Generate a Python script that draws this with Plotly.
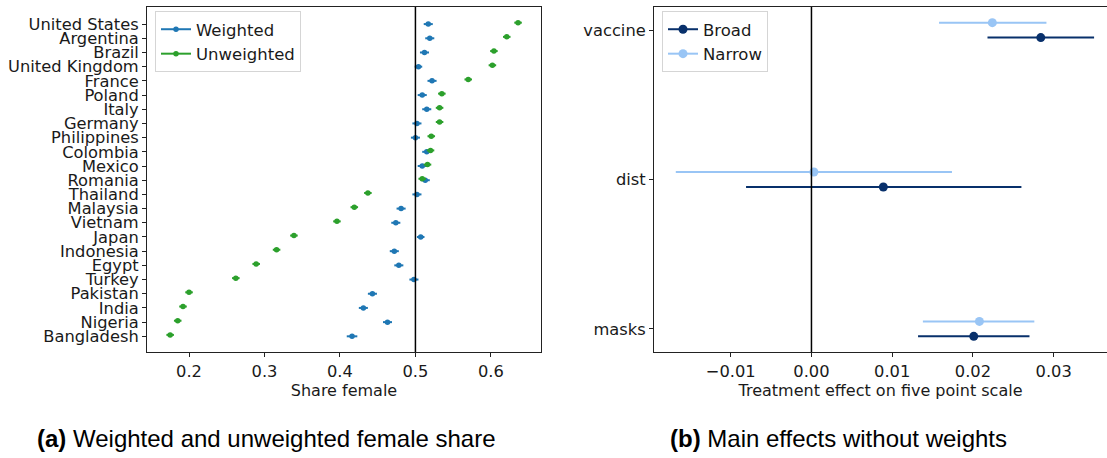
import plotly.graph_objects as go

# ---- panel (a): share of female respondents by country ----
countries = ["United States", "Argentina", "Brazil", "United Kingdom", "France",
             "Poland", "Italy", "Germany", "Philippines", "Colombia", "Mexico",
             "Romania", "Thailand", "Malaysia", "Vietnam", "Japan", "Indonesia",
             "Egypt", "Turkey", "Pakistan", "India", "Nigeria", "Bangladesh"]
weighted = [0.517, 0.519, 0.512, 0.504, 0.522, 0.509, 0.515, 0.502, 0.500, 0.515,
            0.509, 0.513, 0.502, 0.481, 0.474, 0.507, 0.472, 0.478, 0.498, 0.443,
            0.431, 0.463, 0.416]
weighted_err = [0.006, 0.006, 0.006, 0.005, 0.006, 0.006, 0.006, 0.006, 0.006, 0.006,
                0.006, 0.006, 0.006, 0.006, 0.006, 0.005, 0.006, 0.006, 0.006, 0.006,
                0.006, 0.006, 0.007]
unweighted = [0.636, 0.621, 0.604, 0.602, 0.570, 0.535, 0.532, 0.532, 0.521, 0.520,
              0.516, 0.509, 0.437, 0.419, 0.396, 0.339, 0.316, 0.289, 0.262, 0.200,
              0.192, 0.185, 0.175]
unweighted_err = [0.005] * 23
share_ticks = [0.2, 0.3, 0.4, 0.5, 0.6]

# ---- panel (b): main treatment effects ----
outcomes = ["vaccine", "dist", "masks"]
broad = [0.0284, 0.0089, 0.0201]
broad_lo = [0.0218, -0.0081, 0.0132]
broad_hi = [0.0350, 0.0260, 0.0270]
narrow = [0.0224, 0.0003, 0.0208]
narrow_lo = [0.0158, -0.0168, 0.0138]
narrow_hi = [0.0291, 0.0174, 0.0276]
effect_ticks = [-0.01, 0.0, 0.01, 0.02, 0.03]
effect_ticktext = ["\u22120.01", "0.00", "0.01", "0.02", "0.03"]

BLUE, GREEN = "#1f77b4", "#2ca02c"
DARK, LIGHT = "#08306b", "#99c5f5"
FONT = "DejaVu Sans"
TXT = "#1a1a1a"
TICK_SIZE = 16.3
TITLE_SIZE = 16
CAPTION_SIZE = 24

fig = go.Figure()

# rows: Bangladesh at 0 up to United States at the top
n = len(countries)
row = [n - 1 - i for i in range(n)]

fig.add_trace(go.Scatter(
    x=weighted, y=row, mode="markers", showlegend=False,
    marker=dict(color=BLUE, size=5.5),
    error_x=dict(type="data", array=weighted_err, color=BLUE, thickness=2, width=0),
    xaxis="x", yaxis="y"))
fig.add_trace(go.Scatter(
    x=unweighted, y=[r + 0.1 for r in row], mode="markers", showlegend=False,
    marker=dict(color=GREEN, size=5.5),
    error_x=dict(type="data", array=unweighted_err, color=GREEN, thickness=2, width=0),
    xaxis="x", yaxis="y"))
for name, col in (("Weighted", BLUE), ("Unweighted", GREEN)):
    fig.add_trace(go.Scatter(
        x=[None], y=[None], mode="lines+markers", name=name, legend="legend",
        line=dict(color=col, width=2), marker=dict(color=col, size=5.5),
        xaxis="x", yaxis="y"))

# outcome rows: vaccine at the top, narrow just above broad
pos = list(range(len(outcomes)))
fig.add_trace(go.Scatter(
    x=broad, y=[p + 0.05 for p in pos], mode="markers", showlegend=False,
    marker=dict(color=DARK, size=9),
    error_x=dict(type="data", symmetric=False,
                 array=[h - v for h, v in zip(broad_hi, broad)],
                 arrayminus=[v - l for v, l in zip(broad, broad_lo)],
                 color=DARK, thickness=2, width=0),
    xaxis="x2", yaxis="y2"))
fig.add_trace(go.Scatter(
    x=narrow, y=[p - 0.05 for p in pos], mode="markers", showlegend=False,
    marker=dict(color=LIGHT, size=9),
    error_x=dict(type="data", symmetric=False,
                 array=[h - v for h, v in zip(narrow_hi, narrow)],
                 arrayminus=[v - l for v, l in zip(narrow, narrow_lo)],
                 color=LIGHT, thickness=2, width=0),
    xaxis="x2", yaxis="y2"))
for name, col in (("Broad", DARK), ("Narrow", LIGHT)):
    fig.add_trace(go.Scatter(
        x=[None], y=[None], mode="lines+markers", name=name, legend="legend2",
        line=dict(color=col, width=2), marker=dict(color=col, size=9),
        xaxis="x2", yaxis="y2"))

axis_common = dict(showline=True, linecolor="#222", linewidth=1, ticks="outside",
                   ticklen=4, tickwidth=1, tickcolor="#222", showgrid=False,
                   zeroline=False, tickfont=dict(family=FONT, size=TICK_SIZE, color=TXT))
top = 1 - 7 / 458
bot = 1 - 352 / 458
legend_common = dict(y=1 - 11 / 458, xanchor="left", yanchor="top",
                     bgcolor="rgba(255,255,255,0.8)", bordercolor="#d5d5d5",
                     borderwidth=1, font=dict(family=FONT, size=16.5, color=TXT))

fig.update_layout(
    width=1107, height=458, margin=dict(l=0, r=0, t=0, b=0),
    paper_bgcolor="white", plot_bgcolor="white",
    font=dict(family=FONT, color=TXT),
    xaxis=dict(axis_common, domain=[147 / 1107, 541 / 1107], range=[0.1443, 0.6664],
               tickvals=share_ticks, ticktext=[f"{t:.1f}" for t in share_ticks],
               mirror=True, anchor="y",
               title=dict(text="Share female",
                          font=dict(family=FONT, size=TITLE_SIZE, color=TXT),
                          standoff=4)),
    yaxis=dict(axis_common, domain=[bot, top], range=[-1.105, 23.205],
               tickvals=row, ticktext=countries, mirror=True, anchor="x"),
    xaxis2=dict(axis_common, domain=[654 / 1107, 1.0], range=[-0.0195, 0.0366],
                tickvals=effect_ticks, ticktext=effect_ticktext, mirror=True,
                anchor="y2",
                title=dict(text="Treatment effect on five point scale",
                           font=dict(family=FONT, size=TITLE_SIZE, color=TXT),
                           standoff=4)),
    yaxis2=dict(axis_common, domain=[bot, top], range=[2.155, -0.155],
                tickvals=pos, ticktext=outcomes, anchor="x2"),
    legend=dict(legend_common, x=155 / 1107),
    legend2=dict(legend_common, x=662 / 1107),
    shapes=[
        dict(type="line", xref="x", yref="y domain", x0=0.5, x1=0.5, y0=0, y1=1,
             line=dict(color="black", width=1.5)),
        dict(type="line", xref="x2", yref="y2 domain", x0=0, x1=0, y0=0, y1=1,
             line=dict(color="black", width=1.5)),
    ],
    annotations=[
        dict(text="<b>(a)</b> Weighted and unweighted female share", x=35 / 1107,
             y=1 - 438 / 458, xref="paper", yref="paper", xanchor="left",
             yanchor="middle", showarrow=False,
             font=dict(family="Liberation Sans", size=CAPTION_SIZE, color="black")),
        dict(text="<b>(b)</b> Main effects without weights", x=668 / 1107,
             y=1 - 438 / 458, xref="paper", yref="paper", xanchor="left",
             yanchor="middle", showarrow=False,
             font=dict(family="Liberation Sans", size=CAPTION_SIZE, color="black")),
    ],
)

fig.write_html("out.html")
